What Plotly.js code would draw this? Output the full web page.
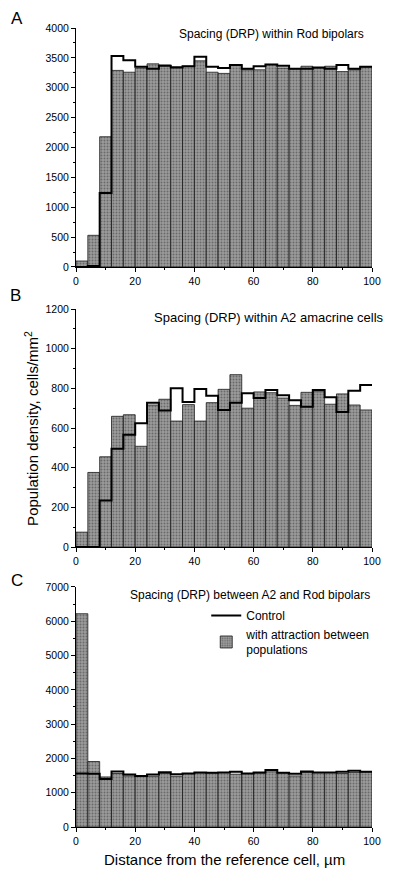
<!DOCTYPE html>
<html>
<head>
<meta charset="utf-8">
<script src="https://cdn.plot.ly/plotly-3.0.1.min.js"></script>
<style>
  html, body { margin: 0; padding: 0; background: #fff; }
  #chart { width: 400px; height: 880px; }
</style>
</head>
<body>
<div id="chart"></div>
<script>
// Bin edges (µm), bins are 4 µm wide
const binEdges = [0, 4, 8, 12, 16, 20, 24, 28, 32, 36, 40, 44, 48, 52, 56, 60, 64, 68, 72, 76, 80, 84, 88, 92, 96, 100];

// Panel A: spacing within Rod bipolars
const A_control = [0, 15, 1240, 3530, 3460, 3350, 3320, 3370, 3340, 3360, 3520, 3350, 3330, 3380, 3320, 3360, 3390, 3370, 3320, 3320, 3340, 3320, 3380, 3320, 3350];
const A_attract = [100, 530, 2180, 3290, 3260, 3330, 3400, 3380, 3350, 3360, 3450, 3260, 3240, 3380, 3300, 3300, 3390, 3330, 3320, 3360, 3330, 3360, 3270, 3300, 3350];

// Panel B: spacing within A2 amacrine cells
const B_control = [0, 0, 235, 495, 566, 624, 728, 688, 800, 731, 797, 763, 691, 728, 775, 751, 792, 765, 740, 707, 792, 755, 681, 788, 817];
const B_attract = [75, 376, 455, 659, 667, 508, 716, 745, 635, 718, 635, 728, 795, 869, 700, 782, 778, 751, 714, 780, 783, 720, 772, 716, 691];

// Panel C: spacing between A2 and Rod bipolars
const C_control = [1560, 1550, 1400, 1620, 1530, 1490, 1530, 1600, 1540, 1560, 1590, 1580, 1590, 1610, 1560, 1590, 1660, 1580, 1550, 1620, 1590, 1590, 1610, 1640, 1610];
const C_attract = [6220, 1910, 1460, 1560, 1490, 1480, 1480, 1560, 1480, 1560, 1580, 1580, 1590, 1540, 1560, 1570, 1610, 1580, 1490, 1590, 1590, 1590, 1560, 1590, 1610];

const panelTitles = [
  "Spacing (DRP) within Rod bipolars",
  "Spacing (DRP) within A2 amacrine cells",
  "Spacing (DRP) between A2 and Rod bipolars"
];
const panelLetters = ["A", "B", "C"];
const legendNames = ["Control", "with attraction between<br>populations"];
const yTitle = "Population density, cells/mm<sup>2</sup>";
const xTitle = "Distance from the reference cell, \u00b5m";

const centers = binEdges.slice(0, -1).map((e, i) => (e + binEdges[i + 1]) / 2);
const widths = binEdges.slice(0, -1).map((e, i) => binEdges[i + 1] - e);

const FONT = "Liberation Sans, Arial, Helvetica, sans-serif";

function barTrace(vals, xa, ya, show) {
  return {
    type: "bar", x: centers, y: vals, width: widths,
    xaxis: xa, yaxis: ya,
    name: legendNames[1], showlegend: show, legendrank: 2,
    marker: {
      color: "#969696",
      line: { color: "#1a1a1a", width: 0.8 },
      pattern: { shape: ".", bgcolor: "#9c9c9c", fgcolor: "#6a6a6a", size: 3, solidity: 0.35 }
    },
    hoverinfo: "x+y"
  };
}
function stepTrace(vals, xa, ya, show) {
  return {
    type: "scatter", mode: "lines", x: binEdges, y: vals.concat([vals[vals.length - 1]]),
    xaxis: xa, yaxis: ya,
    name: legendNames[0], showlegend: show, legendrank: 1,
    line: { shape: "hv", color: "#000", width: 2 },
    hoverinfo: "x+y"
  };
}

const data = [
  barTrace(A_attract, "x", "y", false), stepTrace(A_control, "x", "y", false),
  barTrace(B_attract, "x2", "y2", false), stepTrace(B_control, "x2", "y2", false),
  barTrace(C_attract, "x3", "y3", true), stepTrace(C_control, "x3", "y3", true)
];

const tickFont = { family: FONT, size: 10.5, color: "#000" };
function xax(anchor) {
  return {
    anchor: anchor, domain: [0, 1], range: [0, 100], dtick: 20, tick0: 0,
    showline: true, linecolor: "#000", linewidth: 1, showgrid: false, zeroline: false,
    ticks: "outside", ticklen: 4, tickwidth: 1, tickcolor: "#000", tickfont: tickFont,
    minor: { dtick: 10, ticks: "outside", ticklen: 2, tickcolor: "#000", showgrid: false }
  };
}
function yax(anchor, domain, top, dt) {
  return {
    anchor: anchor, domain: domain, range: [0, top], dtick: dt, tick0: 0,
    showline: true, linecolor: "#000", linewidth: 1, showgrid: false, zeroline: false,
    ticks: "outside", ticklen: 4, tickwidth: 1, tickcolor: "#000", tickfont: tickFont,
    minor: { dtick: dt / 2, ticks: "outside", ticklen: 2, tickcolor: "#000", showgrid: false }
  };
}

const titleFont = { family: FONT, size: 12, color: "#000" };
const titleFontB = { family: FONT, size: 13, color: "#000" };
const letterFont = { family: FONT, size: 17, color: "#000" };

const layout = {
  width: 400, height: 880,
  margin: { l: 76, r: 28, t: 28, b: 53 },
  paper_bgcolor: "#fff", plot_bgcolor: "#fff",
  font: { family: FONT, color: "#000" },
  bargap: 0,
  xaxis: xax("y"), xaxis2: xax("y2"), xaxis3: xax("y3"),
  yaxis: yax("x", [0.7009, 1], 4000, 500),
  yaxis2: yax("x2", [0.3504, 0.6483], 1200, 200),
  yaxis3: yax("x3", [0, 0.3004], 7000, 1000),
  showlegend: true,
  legend: {
    x: 0.44, y: 0.283, xanchor: "left", yanchor: "top",
    font: { family: FONT, size: 12, color: "#000" },
    bgcolor: "rgba(0,0,0,0)", borderwidth: 0, tracegroupgap: 0, itemwidth: 30
  },
  annotations: [
    { xref: "paper", yref: "paper", x: 0.980, y: 0.9925, xanchor: "right", yanchor: "middle", text: panelTitles[0], showarrow: false, font: titleFont },
    { xref: "paper", yref: "paper", x: 1.047, y: 0.638, xanchor: "right", yanchor: "middle", text: panelTitles[1], showarrow: false, font: titleFontB },
    { xref: "paper", yref: "paper", x: 1.0, y: 0.290, xanchor: "right", yanchor: "middle", text: panelTitles[2], showarrow: false, font: titleFont },
    { xref: "paper", yref: "paper", x: -0.199, y: 1.0125, xanchor: "center", yanchor: "middle", text: panelLetters[0], showarrow: false, font: letterFont },
    { xref: "paper", yref: "paper", x: -0.203, y: 0.6646, xanchor: "center", yanchor: "middle", text: panelLetters[1], showarrow: false, font: letterFont },
    { xref: "paper", yref: "paper", x: -0.199, y: 0.309, xanchor: "center", yanchor: "middle", text: panelLetters[2], showarrow: false, font: letterFont },
    { xref: "paper", yref: "paper", x: -0.149, y: 0.4994, xanchor: "center", yanchor: "middle", textangle: -90, text: yTitle, showarrow: false, font: { family: FONT, size: 15, color: "#000" } },
    { xref: "paper", yref: "paper", x: 0.5, y: -0.0413, xanchor: "center", yanchor: "middle", text: xTitle, showarrow: false, font: { family: FONT, size: 15, color: "#000" } }
  ]
};

Plotly.newPlot("chart", data, layout, { displayModeBar: false, staticPlot: true });
</script>
</body>
</html>
